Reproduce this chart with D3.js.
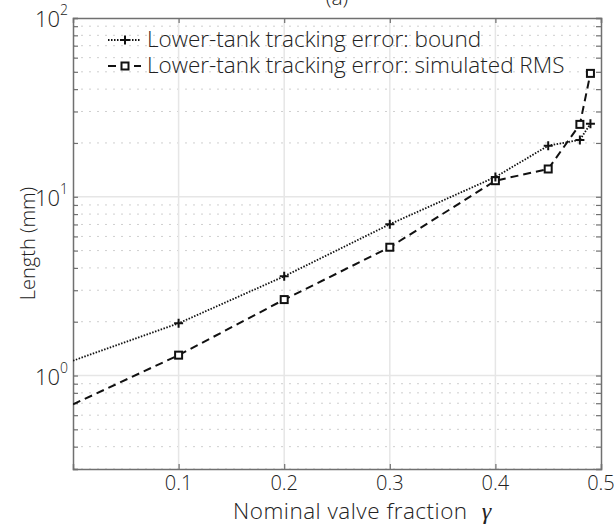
<!DOCTYPE html>
<html>
<head>
<meta charset="utf-8">
<script src="https://cdn.jsdelivr.net/npm/d3@7"></script>
<style>
  html, body { margin: 0; padding: 0; background: #fff; }
  svg { display: block; font-family: "Open Sans", Lato, sans-serif; font-weight: 300; }
</style>
</head>
<body>
<svg id="chart" width="614" height="527"></svg>
<script>
// Nominal valve fraction (x) values
const gammaValues = [0, 0.1, 0.2, 0.3, 0.4, 0.45, 0.48, 0.49];
// Lower-tank tracking error bound (mm)
const boundValues = [1.21, 1.96, 3.59, 7.02, 12.9, 19.3, 20.8, 25.6];
// Lower-tank tracking error, simulated RMS (mm)
const rmsValues = [0.69, 1.30, 2.66, 5.22, 12.3, 14.3, 25.4, 49.0];

const xTicks = [0.1, 0.2, 0.3, 0.4, 0.5];
const xTickLabels = ["0.1", "0.2", "0.3", "0.4", "0.5"];
const yDecades = [1, 10, 100];
const yDecadeExponents = ["0", "1", "2"];
const legendLabels = ["Lower-tank tracking error: bound", "Lower-tank tracking error: simulated RMS"];

const svg = d3.select("#chart");
const plotLeft = 73, plotRight = 601, plotTop = 18, plotBottom = 469;

const x = d3.scaleLinear().domain([0, 0.5]).range([plotLeft, plotRight]);
const y = d3.scaleLog().domain([0.3, 100]).range([plotBottom, plotTop]);

// minor grid values (2..9 within each decade)
const minorVals = [];
[0.1, 1, 10].forEach(d => { for (let k = 2; k <= 9; k++) { const v = d * k; if (v >= 0.3 && v <= 100) minorVals.push(v); } });

const grid = svg.append("g");
grid.selectAll("line.minor").data(minorVals).join("line")
  .attr("x1", plotLeft).attr("x2", plotRight)
  .attr("y1", d => y(d)).attr("y2", d => y(d))
  .attr("stroke", "#cfcfcf").attr("stroke-width", 1).attr("stroke-dasharray", "2,6");
grid.selectAll("line.ymaj").data([1, 10]).join("line")
  .attr("x1", plotLeft).attr("x2", plotRight)
  .attr("y1", d => y(d)).attr("y2", d => y(d))
  .attr("stroke", "#e6e6e6").attr("stroke-width", 1.5);
grid.selectAll("line.xmaj").data(xTicks.slice(0, 4)).join("line")
  .attr("x1", d => x(d)).attr("x2", d => x(d))
  .attr("y1", plotTop).attr("y2", plotBottom)
  .attr("stroke", "#e6e6e6").attr("stroke-width", 1.5);

// axes box with inward ticks
const axisColor = "#707070";
const yTickVals = minorVals.concat([1, 10, 100]);
const axL = d3.axisLeft(y).tickValues(yTickVals).tickSize(-5).tickFormat("");
const axR = d3.axisRight(y).tickValues(yTickVals).tickSize(-5).tickFormat("");
const axB = d3.axisBottom(x).tickValues(xTicks).tickSize(-5).tickFormat("");
const axT = d3.axisTop(x).tickValues(xTicks).tickSize(-5).tickFormat("");
[[axL, `translate(${plotLeft},0)`], [axR, `translate(${plotRight},0)`], [axB, `translate(0,${plotBottom})`], [axT, `translate(0,${plotTop})`]]
  .forEach(([ax, tr]) => {
    const g = svg.append("g").attr("transform", tr).call(ax);
    g.select(".domain").attr("stroke", axisColor).attr("stroke-width", 1.5);
    g.selectAll(".tick line").attr("stroke", axisColor).attr("stroke-width", 1.2);
  });

// tick labels
svg.append("g").selectAll("text").data(xTicks).join("text")
  .attr("x", d => x(d)).attr("y", plotBottom + 21)
  .attr("text-anchor", "middle").attr("font-size", 20).attr("fill", "#222")
  .text((d, i) => xTickLabels[i]);

const yl = svg.append("g").selectAll("text").data(yDecades).join("text")
  .attr("x", plotLeft - 5).attr("y", d => y(d) + 9)
  .attr("text-anchor", "end").attr("font-size", 22).attr("fill", "#222");
yl.append("tspan").text("10");
yl.append("tspan").attr("dy", -12).attr("font-size", 14).text((d, i) => yDecadeExponents[i]);

// axis titles
svg.append("text").attr("x", 233).attr("y", 519)
  .attr("font-size", 22.5).attr("letter-spacing", 0.5).attr("fill", "#222")
  .call(t => {
    t.append("tspan").text("Nominal valve fraction");
    t.append("tspan").attr("dx", 14).attr("font-style", "italic").attr("font-family", "'Liberation Serif', serif").attr("font-weight", 400).attr("font-size", 24).text("γ");
  });
svg.append("text").attr("transform", `translate(35,${(plotTop + plotBottom) / 2}) rotate(-90)`)
  .attr("text-anchor", "middle").attr("font-size", 20).attr("fill", "#222").text("Length (mm)");

// title
svg.append("text").attr("x", (plotLeft + plotRight) / 2).attr("y", 5)
  .attr("text-anchor", "middle").attr("font-size", 21).attr("fill", "#222").text("(a)");

// data
svg.append("clipPath").attr("id", "plotclip").append("rect")
  .attr("x", plotLeft).attr("y", plotTop).attr("width", plotRight - plotLeft).attr("height", plotBottom - plotTop);

const boundPts = gammaValues.map((g, i) => ({ g, v: boundValues[i] }));
const rmsPts = gammaValues.map((g, i) => ({ g, v: rmsValues[i] }));
const line = d3.line().x(d => x(d.g)).y(d => y(d.v));
const plot = svg.append("g").attr("clip-path", "url(#plotclip)");

plot.append("path").datum(boundPts).attr("d", line)
  .attr("fill", "none").attr("stroke", "#111").attr("stroke-width", 1.8).attr("stroke-dasharray", "1.5,1.5");
plot.append("path").datum(rmsPts).attr("d", line)
  .attr("fill", "none").attr("stroke", "#111").attr("stroke-width", 2).attr("stroke-dasharray", "8,5");

function plus(sel, cx, cy) {
  sel.append("path").attr("d", `M${cx - 4.5},${cy}H${cx + 4.5}M${cx},${cy - 4.5}V${cy + 4.5}`)
    .attr("stroke", "#111").attr("stroke-width", 2);
}
function square(sel, cx, cy) {
  sel.append("rect").attr("x", cx - 3.5).attr("y", cy - 3.5).attr("width", 7).attr("height", 7)
    .attr("fill", "#fff").attr("stroke", "#111").attr("stroke-width", 2);
}
rmsPts.filter(d => d.g > 0).forEach(d => square(plot, x(d.g), y(d.v)));
boundPts.filter(d => d.g > 0).forEach(d => plus(plot, x(d.g), y(d.v)));

// legend
const lg = svg.append("g");
const legY = [40, 66];
lg.append("line").attr("x1", 108).attr("x2", 141).attr("y1", legY[0]).attr("y2", legY[0])
  .attr("stroke", "#111").attr("stroke-width", 1.8).attr("stroke-dasharray", "1.5,1.5");
plus(lg, 125, legY[0]);
lg.append("line").attr("x1", 108).attr("x2", 141).attr("y1", legY[1]).attr("y2", legY[1])
  .attr("stroke", "#111").attr("stroke-width", 2).attr("stroke-dasharray", "8,5");
square(lg, 125, legY[1]);
lg.selectAll("text").data(legendLabels).join("text")
  .attr("x", 147).attr("y", (d, i) => legY[i] + 7)
  .attr("font-size", 22.5).attr("fill", "#222").text(d => d);
</script>
</body>
</html>
